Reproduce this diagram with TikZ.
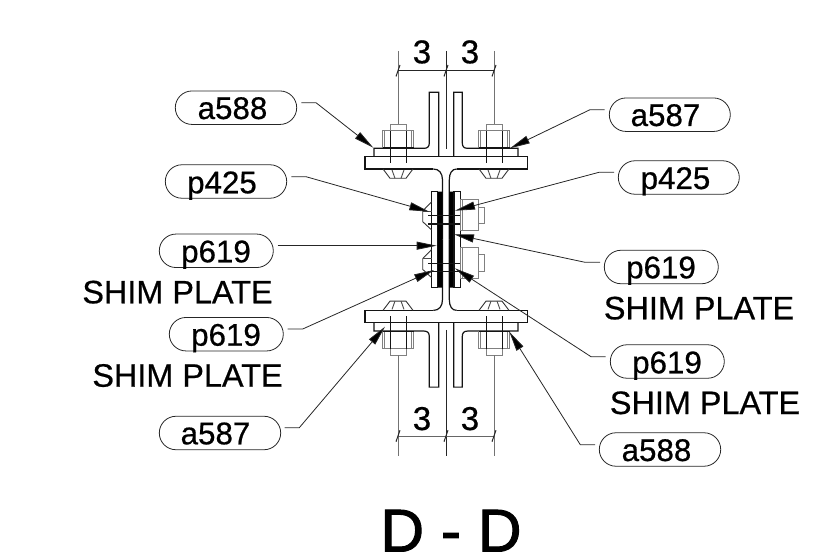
\documentclass[tikz,border=0pt]{standalone}
\usepackage{fontspec}
\setmainfont[FakeBold=0.6]{Liberation Sans}
\newfontfamily\titlefont[FakeBold=1.6]{Liberation Sans}
\usetikzlibrary{arrows.meta,shapes.misc}
\tikzset{
  pill/.style={rounded rectangle,draw=black!85,line width=0.8pt,minimum width=#1,minimum height=33.5pt,inner sep=0pt,outer sep=0pt},
  lbl/.style={anchor=base,inner sep=0pt,outer sep=0pt,font=\fontsize{31.3}{31.3}\selectfont},
  shim/.style={anchor=base,inner sep=0pt,outer sep=0pt,font=\fontsize{32.4}{32.4}\selectfont},
  dimtext/.style={anchor=base,inner sep=0pt,outer sep=0pt,font=\fontsize{33}{33}\selectfont},
  leader/.style={line width=0.8pt,black!85,-{Triangle[length=20pt,width=8pt,fill=black]}},
  steel/.style={line width=1.2pt,black!92},
  gr/.style={line width=1pt,black!50},
  ext/.style={line width=1pt,black!55},
  dimln/.style={line width=1pt,black!85},
}
\newcommand{\boltV}[1]{%
  \begin{scope}[shift={(#1,0)}]
    \draw[gr] (-8,130.7) rectangle (8,124.3);
    \draw[gr] (-15.5,148.3) -- (-15.5,130.7) -- (15.5,130.7) -- (15.5,148.3);
    \draw[gr] (-13.5,148.3) -- (-13.5,130.7) (13.5,148.3) -- (13.5,130.7);
    \draw[steel] (-15.5,147.6) -- (15.5,147.6);
    \draw[steel,line width=1pt] (-8,130.7) -- (-8,163.3) (8,130.7) -- (8,163.3);
    \draw[line width=0.9pt,black!80] (-15,169) -- (-8,178.3) -- (8,178.3) -- (15,169);
    \draw[line width=0.9pt,black!70] (-6,170) -- (-3,178.3) (6,170) -- (3,178.3);
  \end{scope}}
\newcommand{\halfT}{%
  \draw[steel] (433.3,169) -- (365,169) -- (365,156.7) -- (527.3,156.7) -- (527.3,169) -- (456.7,169);
  \draw[steel] (433.3,169) .. controls (439,169) and (442.5,173) .. (442.5,180) -- (442.5,239.7);
  \draw[steel] (456.7,169) .. controls (452,169) and (449.3,173) .. (449.3,180) -- (449.3,239.7);
  \draw[steel] (374,156.7) -- (374,148.3) -- (424.3,148.3) .. controls (427.5,148.3) and (429.3,146.5) .. (429.3,143) -- (429.3,92.3) -- (438.7,92.3) -- (438.7,156.7);
  \draw[steel] (518,156.7) -- (518,148.3) -- (467.3,148.3) .. controls (464,148.3) and (462.3,146.5) .. (462.3,143) -- (462.3,92.3) -- (453.7,92.3) -- (453.7,156.7);
  \boltV{398}\boltV{494}}
\begin{document}
\begin{tikzpicture}[x=1pt,y=-1pt]
\useasboundingbox (0,0) rectangle (830,553);
% upper and lower tees
\halfT
\begin{scope}[shift={(0,479.4)},yscale=-1]
  \halfT
\end{scope}
% splice plates
\fill[black] (437.3,191.7) rectangle (442.3,287.7) (449.3,191.7) rectangle (454,287.7);
\draw[steel] (431.7,191.7) rectangle (437.3,287.7) (454,191.7) rectangle (460.7,287.7);
% horizontal bolts
\foreach \d in {0,47.7}{
  \begin{scope}[shift={(0,\d)}]
    \draw[steel,line width=1.3pt] (428,215.7) -- (460.7,215.7) (428,224) -- (460.7,224);
    \draw[line width=0.9pt,black!80] (431.7,201.7) -- (422.7,211) -- (422.7,221.7) -- (431.7,230);
    \draw[line width=0.8pt,black!70] (422.7,211) -- (431.7,211);
    \draw[gr] (460.7,200) rectangle (478.3,230.7);
    \draw[gr] (478.3,207.3) rectangle (484.3,224);
    \draw[gr] (462.5,200) -- (462.5,230.7);
  \end{scope}}
% dimensions
\draw[ext] (398,51) -- (398,124.3) (494,51) -- (494,124.3);
\draw[line width=1pt,black!85] (446,51) -- (446,149);
\draw[dimln] (398,70.7) -- (494,70.7);
\foreach \x in {398,446,494}{\draw[dimln] (\x-2,76.5) -- (\x+2,65);}
\draw[ext] (398,355) -- (398,455.7) (494,355) -- (494,455.7);
\draw[line width=1pt,black!85] (446,330) -- (446,455.7);
\draw[line width=0.9pt,black!60] (398,436) -- (494,436);
\foreach \x in {398,446,494}{\draw[dimln] (\x-2,441.7) -- (\x+2,430.2);}
\node[dimtext] (d1) at (422,63.3) {3};
\node[dimtext] (d2) at (470,63.3) {3};
\node[dimtext] (d3) at (422,430) {3};
\node[dimtext] (d4) at (470,430) {3};
% pills
\node[pill=121.4pt] (pA) at (236,107.7) {};
\node[pill=121pt] (pB) at (669.8,114.7) {};
\node[pill=121.4pt] (pC) at (226,181.5) {};
\node[pill=121pt] (pD) at (678.8,177.5) {};
\node[pill=114pt] (pE) at (216.3,250.8) {};
\node[pill=114pt] (pF) at (661.3,267) {};
\node[pill=114pt] (pG) at (226.3,334.2) {};
\node[pill=114pt] (pH) at (667.3,361.5) {};
\node[pill=121.4pt] (pI) at (220,433) {};
\node[pill=121.4pt] (pJ) at (660,449.5) {};
% labels
\node[lbl] (tA) at (232.5,119) {a588};
\node[lbl] (tB) at (665.5,126) {a587};
\node[lbl] (tC) at (222,193.3) {p425};
\node[lbl] (tD) at (675.5,189) {p425};
\node[lbl] (tE) at (216,262.3) {p619};
\node[lbl] (tF) at (661,278.3) {p619};
\node[lbl] (tG) at (226,345.7) {p619};
\node[lbl] (tH) at (667,373.3) {p619};
\node[lbl] (tI) at (215.5,444.3) {a587};
\node[lbl] (tJ) at (656.5,461) {a588};
\node[shim] (s1) at (177.5,303.3) {SHIM PLATE};
\node[shim] (s2) at (187.5,386.7) {SHIM PLATE};
\node[shim] (s3) at (699,319.3) {SHIM PLATE};
\node[shim] (s4) at (705,414) {SHIM PLATE};
\node[anchor=base,inner sep=0pt,font=\titlefont\fontsize{60.5}{60.5}\selectfont] (title) at (451,551.5) {D - D};
% arrow tips
\coordinate (kA) at (373.3,147.7);
\coordinate (kB) at (510,148.3);
\coordinate (kC) at (429.3,211.7);
\coordinate (kD) at (455,210.7);
\coordinate (kE) at (436.7,245.7);
\coordinate (kF) at (454,234.3);
\coordinate (kG) at (434,270);
\coordinate (kH) at (455,268.3);
\coordinate (kI) at (385,326.7);
\coordinate (kJ) at (509.3,331.7);
% leaders
\draw[leader] ([shift={(4.6,-5)}]pA.east) -- ++(14.7,0) -- (kA);
\draw[leader] ([shift={(-4.6,-5)}]pB.west) -- ++(-14.7,0) -- (kB);
\draw[leader] ([shift={(4.6,-4.8)}]pC.east) -- ++(14.7,0) -- (kC);
\draw[leader] ([shift={(-4.3,-5.2)}]pD.west) -- ++(-15,0) -- (kD);
\draw[leader] ([shift={(4.4,-5.1)}]pE.east) -- (kE);
\draw[leader] ([shift={(-4.3,-4.7)}]pF.west) -- ++(-15,0) -- (kF);
\draw[leader] ([shift={(4.4,-5.2)}]pG.east) -- ++(15,0) -- (kG);
\draw[leader] ([shift={(-4.6,-4.8)}]pH.west) -- ++(-14.7,0) -- (kH);
\draw[leader] ([shift={(4,-5.3)}]pI.east) -- ++(14.6,0) -- (kI);
\draw[leader] ([shift={(-4.3,-4.8)}]pJ.west) -- ++(-14.7,0) -- (kJ);
\end{tikzpicture}
\end{document}
